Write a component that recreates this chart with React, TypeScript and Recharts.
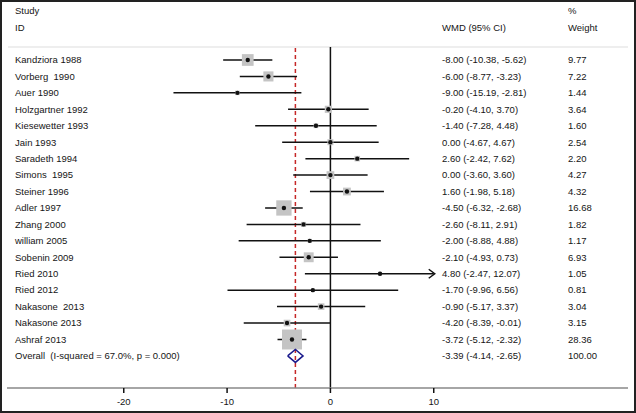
import React from "react";
import { ComposedChart, Scatter, XAxis, YAxis, ReferenceLine, ErrorBar, Customized } from "recharts";

const studies = [
  "Kandziora 1988",
  "Vorberg  1990",
  "Auer 1990",
  "Holzgartner 1992",
  "Kiesewetter 1993",
  "Jain 1993",
  "Saradeth 1994",
  "Simons  1995",
  "Steiner 1996",
  "Adler 1997",
  "Zhang 2000",
  "william 2005",
  "Sobenin 2009",
  "Ried 2010",
  "Ried 2012",
  "Nakasone  2013",
  "Nakasone 2013",
  "Ashraf 2013",
];
const wmd = [-8.0, -6.0, -9.0, -0.2, -1.4, 0.0, 2.6, 0.0, 1.6, -4.5, -2.6, -2.0, -2.1, 4.8, -1.7, -0.9, -4.2, -3.72];
const lower = [-10.38, -8.77, -15.19, -4.1, -7.28, -4.67, -2.42, -3.6, -1.98, -6.32, -8.11, -8.88, -4.93, -2.47, -9.96, -5.17, -8.39, -5.12];
const upper = [-5.62, -3.23, -2.81, 3.7, 4.48, 4.67, 7.62, 3.6, 5.18, -2.68, 2.91, 4.88, 0.73, 12.07, 6.56, 3.37, -0.01, -2.32];
const weight = [9.77, 7.22, 1.44, 3.64, 1.6, 2.54, 2.2, 4.27, 4.32, 16.68, 1.82, 1.17, 6.93, 1.05, 0.81, 3.04, 3.15, 28.36];

const overallLabel = "Overall  (I-squared = 67.0%, p = 0.000)";
const overall = { wmd: -3.39, lower: -4.14, upper: -2.65, weight: 100.0 };

const xTicks = [-20, -10, 0, 10];
const xMax = 10;

const fmt = (v: number) => v.toFixed(2);

const rows = studies.map((name, i) => {
  const hiShown = Math.min(upper[i], xMax);
  return {
    row: i + 1,
    name,
    x: wmd[i],
    weight: weight[i],
    err: [wmd[i] - lower[i], hiShown - wmd[i]],
    ci: `${fmt(wmd[i])} (${fmt(lower[i])}, ${fmt(upper[i])})`,
    w: fmt(weight[i]),
  };
});

const overallRow = studies.length + 1;
const labelRows = [
  ...rows.map((r) => ({ row: r.row, x: r.x, name: r.name, ci: r.ci, w: r.w })),
  {
    row: overallRow,
    x: overall.wmd,
    name: overallLabel,
    ci: `${fmt(overall.wmd)} (${fmt(overall.lower)}, ${fmt(overall.upper)})`,
    w: fmt(overall.weight),
  },
];

// rows whose upper limit runs past the last tick get an arrow
const arrows = rows.filter((r, i) => upper[i] > xMax).map((r) => ({ row: r.row, x: xMax }));

const dh = 0.395;
const diamond = [
  { x: overall.lower, row: overallRow },
  { x: overall.wmd, row: overallRow - dh },
  { x: overall.upper, row: overallRow },
  { x: overall.wmd, row: overallRow + dh },
  { x: overall.lower, row: overallRow },
];

const font = "'Liberation Sans', Arial, sans-serif";
const textColor = "#151515";

const BoxShape = (props: any) => {
  const { cx, cy, payload } = props;
  const s = 3.75 * Math.sqrt(payload.weight);
  return <rect x={cx - s / 2} y={cy - s / 2} width={s} height={s} fill="#c4c4c4" />;
};

const DotShape = (props: any) => <circle cx={props.cx} cy={props.cy} r={2.2} fill="#111" />;

const ArrowShape = (props: any) => {
  const { cx, cy } = props;
  return (
    <path d={`M${cx - 5},${cy - 4.5} L${cx + 1},${cy} L${cx - 5},${cy + 4.5}`} fill="none" stroke="#111" strokeWidth={1.5} />
  );
};

const LabelShape = (props: any) => {
  const { cy, payload } = props;
  const common = { fontFamily: font, fontSize: 9.5, fill: textColor, dy: "0.35em", style: { whiteSpace: "pre" as const } };
  return (
    <g>
      <text x={15} y={cy} {...common}>{payload.name}</text>
      <text x={442} y={cy} {...common}>{payload.ci}</text>
      <text x={568} y={cy} {...common}>{payload.w}</text>
    </g>
  );
};

const Header = () => {
  const common = { fontFamily: font, fontSize: 9.5, fill: textColor, dy: "0.35em" };
  return (
    <g>
      <text x={15} y={11} {...common}>Study</text>
      <text x={15} y={28} {...common}>ID</text>
      <text x={442} y={28} {...common}>WMD (95% CI)</text>
      <text x={568} y={11} {...common}>%</text>
      <text x={568} y={28} {...common}>Weight</text>
      <line x1={8} x2={628} y1={47} y2={47} stroke="#ddd" strokeWidth={1} />
    </g>
  );
};

const Nothing = () => <g />;

export default function App() {
  return (
    <div style={{ position: "absolute", left: 0, top: 0, width: 636, height: 413, background: "#fff" }}>
      <ComposedChart width={636} height={413} margin={{ top: 47, right: 8, bottom: 0, left: 7 }}>
        <XAxis
          type="number"
          dataKey="x"
          domain={[-31.3, 28.8]}
          ticks={xTicks}
          height={25}
          axisLine={{ stroke: "#888", strokeWidth: 1.5 }}
          tickLine={{ stroke: "#111", strokeWidth: 1.5 }}
          tickSize={5}
          tickMargin={5}
          tick={{ fontFamily: font, fontSize: 9.5, fill: textColor }}
        />
        <YAxis type="number" dataKey="row" domain={[0.21, 20.95]} reversed hide />
        <ReferenceLine x={0} stroke="#111" strokeWidth={1.5} />
        <ReferenceLine x={overall.wmd} stroke="#c62828" strokeWidth={1.5} strokeDasharray="4 3" />
        <Customized component={<Header />} />
        <Scatter data={labelRows} shape={<LabelShape />} isAnimationActive={false} />
        <Scatter data={rows} shape={<BoxShape />} isAnimationActive={false} />
        <Scatter data={rows} shape={<DotShape />} isAnimationActive={false}>
          <ErrorBar dataKey="err" direction="x" width={0} stroke="#111" strokeWidth={1.5} />
        </Scatter>
        <Scatter data={arrows} shape={<ArrowShape />} isAnimationActive={false} />
        <Scatter
          data={diamond}
          shape={<Nothing />}
          line={{ stroke: "#1a1a8c", strokeWidth: 1.5 }}
          lineJointType="linear"
          isAnimationActive={false}
        />
      </ComposedChart>
      <div
        style={{
          position: "absolute",
          left: 0,
          top: 0,
          width: 636,
          height: 413,
          boxSizing: "border-box",
          border: "2px solid #222",
          pointerEvents: "none",
        }}
      />
    </div>
  );
}
